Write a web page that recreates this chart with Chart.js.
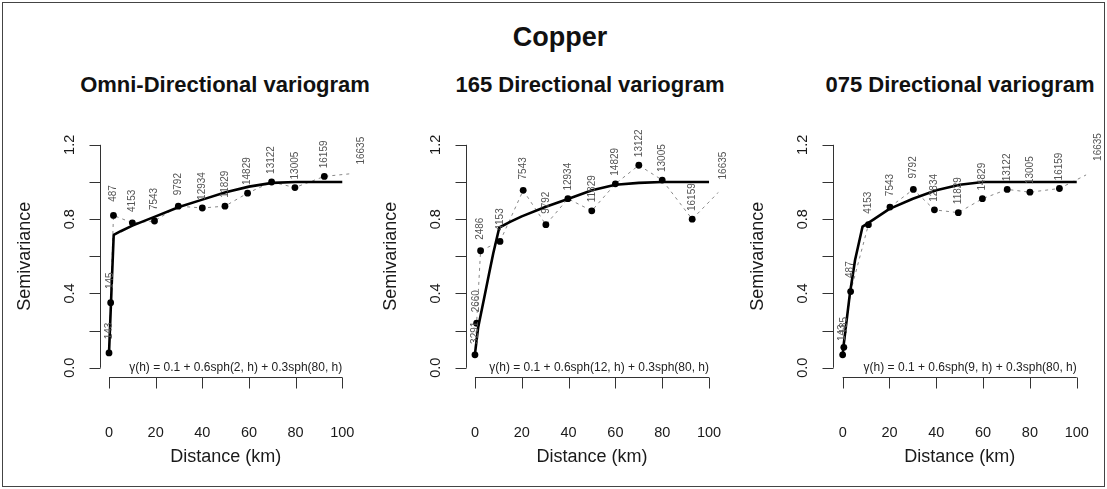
<!DOCTYPE html>
<html>
<head>
<meta charset="utf-8">
<title>Copper variograms</title>
<script src="https://cdn.jsdelivr.net/npm/chart.js@4.4.0/dist/chart.umd.min.js"></script>
<style>
    body { margin: 0; background: #fff; }
    #frame { position: absolute; left: 2px; top: 2px; width: 1101px; height: 483px; border: 1px solid #444; }
    canvas { position: absolute; top: 0; }
    .title { position: absolute; font-family: "Liberation Sans", Arial, sans-serif; font-weight: bold;
             color: #111; transform: translateX(-50%); white-space: nowrap; line-height: 1; }
</style>
</head>
<body>
<div id="frame"></div>
<div class="title" style="left:560px; top:24px; font-size:27px;">Copper</div>
<div class="title" style="left:225px; top:74px; font-size:22px;">Omni-Directional variogram</div>
<div class="title" style="left:590px; top:74px; font-size:22px;">165 Directional variogram</div>
<div class="title" style="left:960px; top:74px; font-size:22px;">075 Directional variogram</div>
<canvas id="omni" width="369" height="489" style="left:0px"></canvas>
<canvas id="dir165" width="369" height="489" style="left:369px"></canvas>
<canvas id="dir075" width="369" height="489" style="left:738px"></canvas>
<script>
// Axis ticks (km / semivariance)
const xTicks = [0, 20, 40, 60, 80, 100];
const yTicks = [0, 0.2, 0.4, 0.6, 0.8, 1.0, 1.2];
const yTickLabels = ['0.0', '', '0.4', '', '0.8', '', '1.2'];

// Omni-directional: empirical variogram + number of pairs
const omniDist  = [0, 0.7, 1.9, 10, 19.5, 29.7, 40, 49.7, 59.4, 69.7, 79.7, 92.3, 108];
const omniGamma = [0.08, 0.35, 0.82, 0.78, 0.79, 0.87, 0.86, 0.87, 0.94, 1.00, 0.97, 1.03, 1.05];
const omniPairs = ['143', '145', '487', '4153', '7543', '9792', '12934', '11829', '14829', '13122', '13005', '16159', '16635'];
// fitted model
const omniModelDist  = [0, 1, 2, 5, 10, 20, 30, 40, 50, 60, 70, 80, 100];
const omniModelGamma = [0.08, 0.40, 0.715, 0.735, 0.765, 0.815, 0.865, 0.905, 0.945, 0.975, 0.995, 1.0, 1.0];

// 165 directional
const d165Dist  = [0, 0.7, 2.4, 10.7, 20.6, 30.3, 39.7, 49.9, 60, 70, 80, 92.8, 106];
const d165Gamma = [0.07, 0.24, 0.63, 0.68, 0.955, 0.77, 0.91, 0.845, 0.99, 1.09, 1.01, 0.80, 0.97];
const d165Pairs = ['3291', '2660', '2486', '4153', '7543', '9792', '12934', '11829', '14829', '13122', '13005', '16159', '16635'];
const d165ModelDist  = [0, 1.4, 4, 6, 7.8, 10.4, 15, 20, 30, 40, 50, 60, 70, 80, 100];
const d165ModelGamma = [0.075, 0.22, 0.38, 0.505, 0.615, 0.755, 0.785, 0.815, 0.865, 0.91, 0.955, 0.985, 0.995, 1.0, 1.0];

// 075 directional
const d075Dist  = [0, 0.5, 3.4, 11, 20.2, 30.2, 39.2, 49.4, 59.7, 70.3, 80, 92.6, 109];
const d075Gamma = [0.07, 0.11, 0.41, 0.77, 0.865, 0.96, 0.85, 0.835, 0.91, 0.96, 0.945, 0.965, 1.07];
const d075Pairs = ['143', '185', '487', '4153', '7543', '9792', '12834', '11829', '14829', '13122', '13005', '16159', '16635'];
const d075ModelDist  = [0, 0.3, 3.1, 5.3, 8.5, 11, 20, 30, 40, 50, 60, 80, 100];
const d075ModelGamma = [0.07, 0.11, 0.40, 0.58, 0.76, 0.78, 0.855, 0.91, 0.955, 0.985, 1.0, 1.0, 1.0];

const FONT = '"Liberation Sans", Arial, sans-serif';

// Helper: draw (optionally rotated) text
function drawText(ctx, text, x, y, rot, font, color, align) {
    ctx.save();
    ctx.translate(x, y);
    ctx.rotate(rot);
    ctx.font = font;
    ctx.fillStyle = color;
    ctx.textAlign = align || 'center';
    ctx.textBaseline = 'middle';
    ctx.fillText(text, 0, 0);
    ctx.restore();
}

// R style axes, pair counts and model equation
const rStyle = {
    id: 'rStyle',
    afterDatasetsDraw(chart, args, opts) {
        const ctx = chart.ctx;
        const xs = chart.scales.x, ys = chart.scales.y;
        const area = chart.chartArea;
        ctx.save();
        ctx.strokeStyle = '#333';
        ctx.lineWidth = 1;

        // x axis
        const bx = Math.round(area.bottom) + 0.5;
        ctx.beginPath();
        ctx.moveTo(xs.getPixelForValue(xTicks[0]), bx);
        ctx.lineTo(xs.getPixelForValue(xTicks[xTicks.length - 1]), bx);
        xTicks.forEach(t => {
            const px = Math.round(xs.getPixelForValue(t)) + 0.5;
            ctx.moveTo(px, bx);
            ctx.lineTo(px, bx + 11);
        });
        ctx.stroke();
        xTicks.forEach(t => {
            drawText(ctx, String(t), xs.getPixelForValue(t), area.bottom + 56, 0, '14.5px ' + FONT, '#1a1a1a');
        });
        drawText(ctx, 'Distance (km)', (area.left + area.right) / 2, area.bottom + 80, 0, '18px ' + FONT, '#1a1a1a');

        // y axis
        const lx = Math.round(area.left) + 0.5;
        ctx.beginPath();
        ctx.moveTo(lx, ys.getPixelForValue(yTicks[0]));
        ctx.lineTo(lx, ys.getPixelForValue(yTicks[yTicks.length - 1]));
        yTicks.forEach(t => {
            const py = Math.round(ys.getPixelForValue(t)) + 0.5;
            ctx.moveTo(lx, py);
            ctx.lineTo(lx - 11, py);
        });
        ctx.stroke();
        yTicks.forEach((t, i) => {
            if (yTickLabels[i]) {
                drawText(ctx, yTickLabels[i], area.left - 30, ys.getPixelForValue(t), -Math.PI / 2, '14.5px ' + FONT, '#1a1a1a');
            }
        });
        drawText(ctx, 'Semivariance', area.left - 75, (area.top + area.bottom) / 2, -Math.PI / 2, '18px ' + FONT, '#1a1a1a');

        // number of pairs above each point
        const emp = chart.data.datasets[1].data;
        opts.pairs.forEach((lab, i) => {
            const px = xs.getPixelForValue(emp[i].x);
            const py = ys.getPixelForValue(emp[i].y);
            drawText(ctx, lab, px, py - 22, -Math.PI / 2, '10px ' + FONT, '#555');
        });

        // model equation
        drawText(ctx, opts.equation, xs.getPixelForValue(100), ys.getPixelForValue(0), 0, '12px ' + FONT, '#222', 'right');
        ctx.restore();
    }
};

function makePanel(id, dist, gamma, pairs, modelDist, modelGamma, equation, pad) {
    const empirical = dist.map((d, i) => ({ x: d, y: gamma[i] }));
    const model = modelDist.map((d, i) => ({ x: d, y: modelGamma[i] }));
    return new Chart(document.getElementById(id), {
        type: 'scatter',
        data: {
            datasets: [{
                label: 'model',
                data: model,
                showLine: true,
                borderColor: '#000',
                borderWidth: 2.6,
                borderJoinStyle: 'round',
                pointRadius: 0,
                order: 1
            }, {
                label: 'empirical',
                data: empirical,
                showLine: true,
                borderColor: '#888',
                borderWidth: 1,
                borderDash: [3, 4],
                pointRadius: 3.4,
                pointBackgroundColor: '#000',
                pointBorderColor: '#000',
                pointBorderWidth: 0,
                order: 2
            }]
        },
        options: {
            responsive: false,
            animation: false,
            events: [],
            layout: { padding: pad },
            scales: {
                x: { type: 'linear', min: -4, max: 104, display: false },
                y: { type: 'linear', min: -0.048, max: 1.248, display: false }
            },
            plugins: {
                legend: { display: false },
                tooltip: { enabled: false },
                rStyle: { pairs: pairs, equation: equation }
            }
        },
        plugins: [rStyle]
    });
}

makePanel('omni', omniDist, omniGamma, omniPairs, omniModelDist, omniModelGamma,
    'γ(h) = 0.1 + 0.6sph(2, h) + 0.3sph(80, h)',
    { left: 99.7, right: 17.4, top: 135.9, bottom: 112.3 });
makePanel('dir165', d165Dist, d165Gamma, d165Pairs, d165ModelDist, d165ModelGamma,
    'γ(h) = 0.1 + 0.6sph(12, h) + 0.3sph(80, h)',
    { left: 96.6, right: 19.6, top: 135.9, bottom: 112.3 });
makePanel('dir075', d075Dist, d075Gamma, d075Pairs, d075ModelDist, d075ModelGamma,
    'γ(h) = 0.1 + 0.6sph(9, h) + 0.3sph(80, h)',
    { left: 95.3, right: 20.9, top: 135.9, bottom: 112.3 });
</script>
</body>
</html>
